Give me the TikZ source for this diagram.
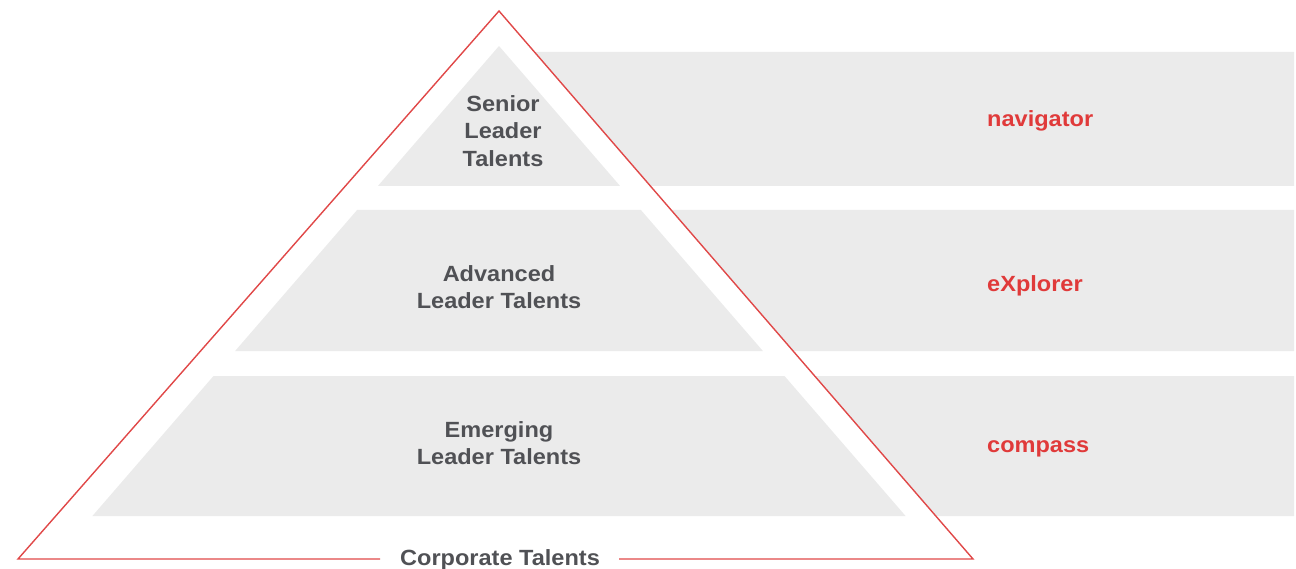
\documentclass[tikz,border=0pt]{standalone}
\usepackage{fontspec}
\setmainfont{Liberation Sans}
\newfontfamily\lblfont{Liberation Sans}[FakeStretch=1.07]
\definecolor{bandgray}{HTML}{EBEBEB}
\definecolor{txtgray}{HTML}{505155}
\definecolor{accent}{HTML}{E03A3A}
\definecolor{linered}{HTML}{E04848}
\tikzset{
  band/.style={fill=bandgray, draw=none},
  tier/.style={font=\lblfont\bfseries\fontsize{22}{27.5}\selectfont, text=txtgray, align=center, inner sep=0pt},
  prog/.style={font=\lblfont\bfseries\fontsize{22}{26}\selectfont, text=accent, anchor=base west, inner sep=0pt},
  outline/.style={draw=linered, line width=1.4pt, line join=miter}
}
\begin{document}
\begin{tikzpicture}[x=1pt,y=-1pt]
\useasboundingbox (0,0) rectangle (1296,569);
% right bands (left edge along the red line)
\fill[band] (534.5,52) -- (1294,52) -- (1294,186) -- (650.4,186) -- cycle;
\fill[band] (671.1,210) -- (1294,210) -- (1294,351) -- (793.1,351) -- cycle;
\fill[band] (814.7,376) -- (1294,376) -- (1294,516) -- (935.8,516) -- cycle;
% inner pyramid tiers
\fill[band] (499,46) -- (620.1,186) -- (377.9,186) -- cycle;
\fill[band] (357.1,210) -- (640.9,210) -- (762.9,351) -- (235.1,351) -- cycle;
\fill[band] (213.5,376) -- (784.5,376) -- (905.6,516) -- (92.4,516) -- cycle;
% red outline
\coordinate (apex) at (499,11);
\coordinate (bl) at (18,559);
\coordinate (br) at (973,559);
\coordinate (gapl) at (380,559);
\coordinate (gapr) at (619,559);
\draw[outline] (gapl) -- (bl) -- (apex) -- (br) -- (gapr);
% labels
\node[tier] (senior) at (503,131) {Senior\\Leader\\Talents};
\node[tier] (advanced) at (499,287) {Advanced\\Leader Talents};
\node[tier] (emerging) at (499,443) {Emerging\\Leader Talents};
\node[tier, anchor=base] (corporate) at (500,565) {Corporate Talents};
\node[prog] (nav) at (987,127) {navigator};
\node[prog] (exp) at (987,292) {eXplorer};
\node[prog] (com) at (987,452) {compass};
\end{tikzpicture}
\end{document}
